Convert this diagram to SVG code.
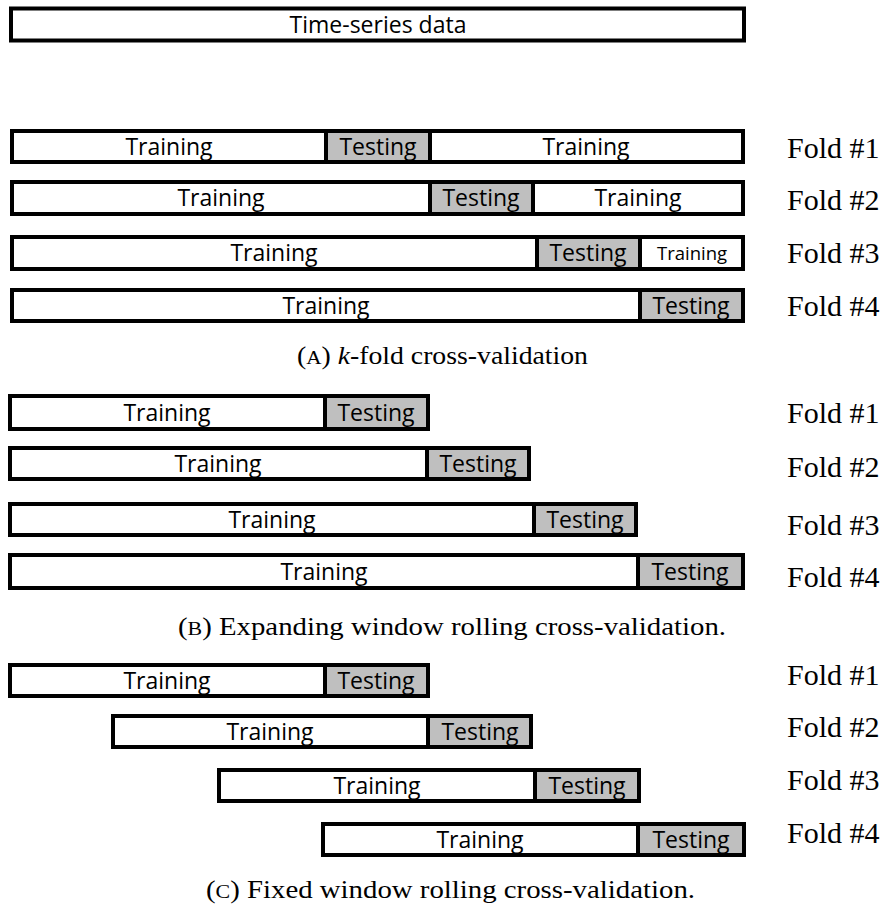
<svg xmlns="http://www.w3.org/2000/svg" width="884" height="912" viewBox="0 0 884 912">
  <style>
    .train { fill: #ffffff; stroke: #000000; stroke-width: 4; }
    .test { fill: #bfbfbf; stroke: #000000; stroke-width: 4; }
    .lbl { font-family: "Open Sans", "Liberation Sans", sans-serif; font-size: 23px; fill: #000; text-anchor: middle; }
    .lbl-sm { font-family: "Open Sans", "Liberation Sans", sans-serif; font-size: 18.5px; fill: #000; text-anchor: middle; }
    .fold { font-family: "Liberation Serif", "Times New Roman", serif; font-size: 30px; fill: #000; }
    .cap { font-family: "Liberation Serif", "Times New Roman", serif; font-size: 25px; fill: #000; }
  </style>

  <!-- whole series -->
  <g id="series">
    <rect class="train" x="11" y="8.5" width="733" height="32"/>
    <text class="lbl" x="378" y="33">Time-series data</text>
  </g>

  <!-- (A) k-fold -->
  <g id="kfold-1">
    <rect class="train" x="12" y="131" width="731" height="31"/>
    <rect class="test" x="326" y="131" width="104" height="31"/>
    <text class="lbl" x="169" y="155">Training</text>
    <text class="lbl" x="378" y="155">Testing</text>
    <text class="lbl" x="586" y="155">Training</text>
    <text class="fold" x="787" y="158">Fold #1</text>
  </g>
  <g id="kfold-2">
    <rect class="train" x="12" y="182" width="731" height="32"/>
    <rect class="test" x="430" y="182" width="103" height="32"/>
    <text class="lbl" x="221" y="206">Training</text>
    <text class="lbl" x="481" y="206">Testing</text>
    <text class="lbl" x="638" y="206">Training</text>
    <text class="fold" x="787" y="210">Fold #2</text>
  </g>
  <g id="kfold-3">
    <rect class="train" x="12" y="237" width="731" height="32"/>
    <rect class="test" x="537" y="237" width="103" height="32"/>
    <text class="lbl" x="274" y="261">Training</text>
    <text class="lbl" x="588" y="261">Testing</text>
    <text class="lbl-sm" x="692" y="260">Training</text>
    <text class="fold" x="787" y="263">Fold #3</text>
  </g>
  <g id="kfold-4">
    <rect class="train" x="12" y="290" width="731" height="31"/>
    <rect class="test" x="640" y="290" width="103" height="31"/>
    <text class="lbl" x="326" y="314">Training</text>
    <text class="lbl" x="691" y="314">Testing</text>
    <text class="fold" x="787" y="316">Fold #4</text>
  </g>
  <text id="caption-a" class="cap" x="297" y="364" textLength="291" lengthAdjust="spacingAndGlyphs">(<tspan font-size="19">A</tspan>) <tspan font-style="italic">k</tspan>-fold cross-validation</text>

  <!-- (B) expanding window -->
  <g id="expand-1">
    <rect class="train" x="10" y="396" width="418" height="33"/>
    <rect class="test" x="325" y="396" width="103" height="33"/>
    <text class="lbl" x="167" y="421">Training</text>
    <text class="lbl" x="376" y="421">Testing</text>
    <text class="fold" x="787" y="423">Fold #1</text>
  </g>
  <g id="expand-2">
    <rect class="train" x="10" y="448" width="519" height="31"/>
    <rect class="test" x="427" y="448" width="102" height="31"/>
    <text class="lbl" x="218" y="472">Training</text>
    <text class="lbl" x="478" y="472">Testing</text>
    <text class="fold" x="787" y="477">Fold #2</text>
  </g>
  <g id="expand-3">
    <rect class="train" x="10" y="504" width="626" height="31"/>
    <rect class="test" x="534" y="504" width="102" height="31"/>
    <text class="lbl" x="272" y="528">Training</text>
    <text class="lbl" x="585" y="528">Testing</text>
    <text class="fold" x="787" y="535">Fold #3</text>
  </g>
  <g id="expand-4">
    <rect class="train" x="10" y="555" width="733" height="33"/>
    <rect class="test" x="638" y="555" width="105" height="33"/>
    <text class="lbl" x="324" y="580">Training</text>
    <text class="lbl" x="690" y="580">Testing</text>
    <text class="fold" x="787" y="587">Fold #4</text>
  </g>
  <text id="caption-b" class="cap" x="178" y="635" textLength="548" lengthAdjust="spacingAndGlyphs">(<tspan font-size="19">B</tspan>) Expanding window rolling cross-validation.</text>

  <!-- (C) fixed window -->
  <g id="fixed-1">
    <rect class="train" x="10" y="665" width="418" height="31"/>
    <rect class="test" x="325" y="665" width="103" height="31"/>
    <text class="lbl" x="167" y="689">Training</text>
    <text class="lbl" x="376" y="689">Testing</text>
    <text class="fold" x="787" y="685">Fold #1</text>
  </g>
  <g id="fixed-2">
    <rect class="train" x="113" y="716" width="418" height="31"/>
    <rect class="test" x="428" y="716" width="103" height="31"/>
    <text class="lbl" x="270" y="740">Training</text>
    <text class="lbl" x="480" y="740">Testing</text>
    <text class="fold" x="787" y="737">Fold #2</text>
  </g>
  <g id="fixed-3">
    <rect class="train" x="219" y="770" width="420" height="31"/>
    <rect class="test" x="535" y="770" width="104" height="31"/>
    <text class="lbl" x="377" y="794">Training</text>
    <text class="lbl" x="587" y="794">Testing</text>
    <text class="fold" x="787" y="790">Fold #3</text>
  </g>
  <g id="fixed-4">
    <rect class="train" x="323" y="824" width="421" height="31"/>
    <rect class="test" x="638" y="824" width="106" height="31"/>
    <text class="lbl" x="480" y="848">Training</text>
    <text class="lbl" x="691" y="848">Testing</text>
    <text class="fold" x="787" y="843">Fold #4</text>
  </g>
  <text id="caption-c" class="cap" x="206" y="898" textLength="489" lengthAdjust="spacingAndGlyphs">(<tspan font-size="19">C</tspan>) Fixed window rolling cross-validation.</text>

  <!-- no connectors in this figure -->
  <g id="connectors"/>
</svg>
